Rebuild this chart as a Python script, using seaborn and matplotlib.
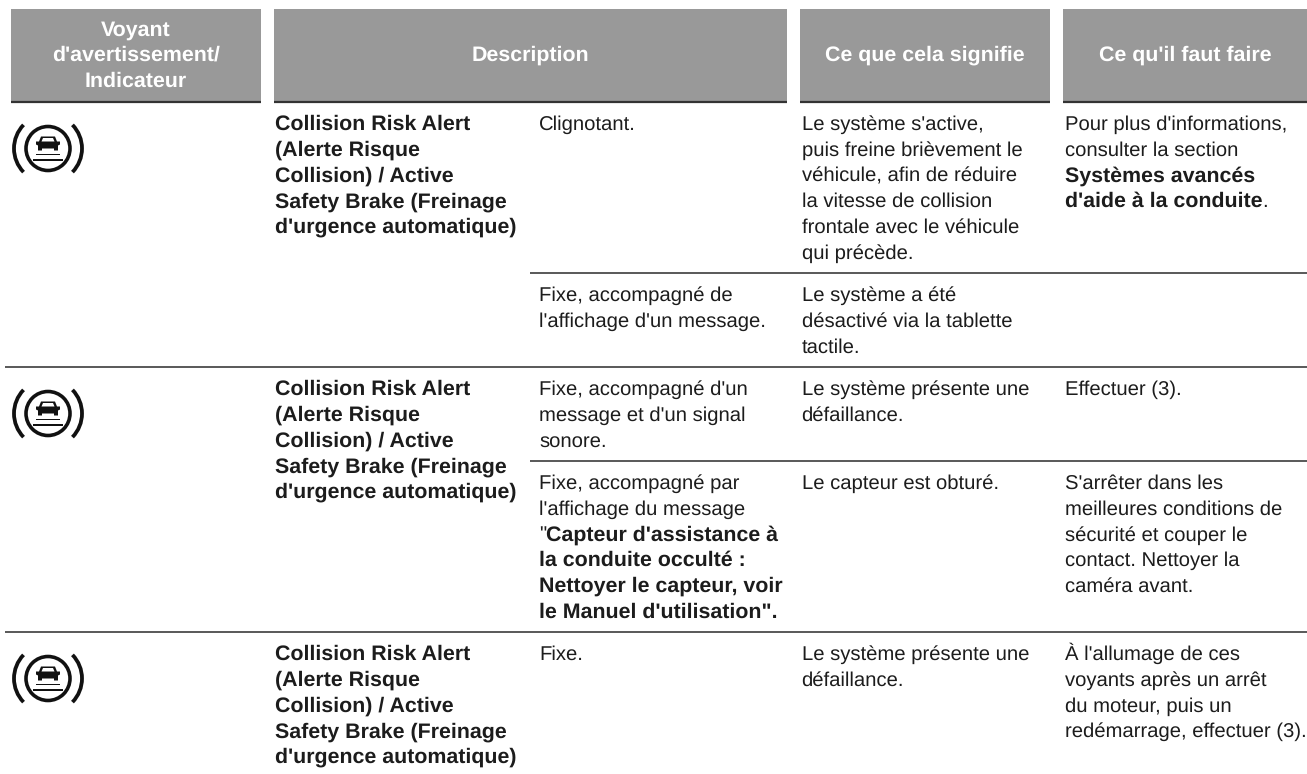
import matplotlib
matplotlib.use("Agg")
import matplotlib.pyplot as plt
from matplotlib.patches import Arc, Circle, Polygon, Rectangle
import pandas as pd
import seaborn as sns

# table content, ** marks bold runs
headers = [["Voyant", "d'avertissement/", "Indicateur"], ["Description"],
           ["Ce que cela signifie"], ["Ce qu'il faut faire"]]
alert_name = ["**Collision Risk Alert**", "**(Alerte Risque**", "**Collision) / Active**",
              "**Safety Brake (Freinage**", "**d'urgence automatique)**"]
states = [["Clignotant."],
          ["Fixe, accompagné de", "l'affichage d'un message."],
          ["Fixe, accompagné d'un", "message et d'un signal", "sonore."],
          ["Fixe, accompagné par", "l'affichage du message", "\"**Capteur d'assistance à**",
           "**la conduite occulté :**", "**Nettoyer le capteur, voir**", "**le Manuel d'utilisation\".**"],
          ["Fixe."]]
meanings = [["Le système s'active,", "puis freine brièvement le", "véhicule, afin de réduire",
             "la vitesse de collision", "frontale avec le véhicule", "qui précède."],
            ["Le système a été", "désactivé via la tablette", "tactile."],
            ["Le système présente une", "défaillance."],
            ["Le capteur est obturé."],
            ["Le système présente une", "défaillance."]]
actions = [["Pour plus d'informations,", "consulter la section", "**Systèmes avancés**",
            "**d'aide à la conduite**."],
           [],
           ["Effectuer (3)."],
           ["S'arrêter dans les", "meilleures conditions de", "sécurité et couper le",
            "contact. Nettoyer la", "caméra avant."],
           ["À l'allumage de ces", "voyants après un arrêt", "du moteur, puis un",
            "redémarrage, effectuer (3)."]]

# layout in pixels
W, H = 1307, 774
header_x = [(11, 261), (274, 787), (800, 1050), (1063, 1307)]
header_top, header_bottom = 9, 102
rows_top = [102, 273, 367, 461, 632]
block_top = [102, 367, 632]
col_x = [275, 539, 801.5, 1065]
line_h = 25.7
body_size = 14.55
bold_size = 15.4
head_size = 15.4
GREY = "#999999"
RULE = "#333333"
INK = "#1c1c1c"

sns.set_theme(style="white")
plt.rcParams["font.family"] = ["Liberation Sans", "DejaVu Sans"]
plt.rcParams["text.hinting"] = "no_hinting"

fig = plt.figure(figsize=(W / 100, H / 100), dpi=100, facecolor="white")
ax = fig.add_axes([0, 0, 1, 1])
ax.set_xlim(0, W)
ax.set_ylim(H, 0)
ax.axis("off")


def put_line(x, y, line):
    # one line of text, switching weight at each ** and chaining the runs
    renderer = fig.canvas.get_renderer()
    for i, run in enumerate(line.split("**")):
        if not run:
            continue
        bold = i % 2 == 1
        t = ax.text(x, y, run, fontsize=bold_size if bold else body_size, color=INK, va="baseline", ha="left",
                    fontweight="bold" if bold else "normal")
        x += t.get_window_extent(renderer).width


def put_block(x, top, lines):
    for k, line in enumerate(lines):
        put_line(x, top + 28 + k * line_h, line)


def draw_icon(cy, cx=48):
    lw = 0.72
    ax.add_patch(Circle((cx, cy), 22, fill=False, ec="#111111", lw=3.6 * lw))
    for centre in (180, 0):
        ax.add_patch(Arc((cx, cy), 68, 68, theta1=centre - 44, theta2=centre + 44,
                         ec="#111111", lw=3.8 * lw))
    body = [(-7, -12), (7, -12), (9, -7), (12, -7), (12, -4), (10, -3), (10, 2), (6, 2), (6, 0),
            (-6, 0), (-6, 2), (-10, 2), (-10, -3), (-12, -4), (-12, -7), (-9, -7)]
    ax.add_patch(Polygon([(cx + a, cy + b) for a, b in body], closed=True, fc="#111111", ec="none"))
    ax.add_patch(Polygon([(cx + a, cy + b) for a, b in [(-5, -10.5), (5, -10.5), (6.5, -7), (-6.5, -7)]],
                         closed=True, fc="white", ec="none"))
    for dy, half in [(6, 12), (11.5, 15)]:
        ax.add_patch(Rectangle((cx - half, cy + dy - 0.9), 2 * half, 1.8, fc="#111111", ec="none"))


# header cells
for (x0, x1), lines in zip(header_x, headers):
    ax.add_patch(Rectangle((x0, header_top), x1 - x0, header_bottom - header_top, fc=GREY, ec="none"))
    for k, line in enumerate(lines):
        y = 61 + (k - (len(lines) - 1) / 2) * line_h
        ax.text((x0 + x1) / 2, y, line, fontsize=head_size, fontweight="bold", color="white",
                ha="center", va="baseline")

# rules
head_rules = pd.DataFrame([(n, x, header_bottom) for n, pair in enumerate(header_x) for x in pair],
                          columns=["rule", "x", "y"])
sns.lineplot(data=head_rules, x="x", y="y", units="rule", estimator=None, sort=False, ax=ax,
             color=RULE, lw=1.6, legend=False, solid_capstyle="butt")
body_rules = pd.DataFrame([(273, 530), (273, W), (367, 5), (367, W), (461, 530), (461, W), (632, 5), (632, W)],
                          columns=["y", "x"])
sns.lineplot(data=body_rules, x="x", y="y", units="y", estimator=None, sort=False, ax=ax,
             color=RULE, lw=1.15, legend=False, solid_capstyle="butt")
ax.set_xlim(0, W)
ax.set_ylim(H, 0)
ax.axis("off")

# body text
for top in block_top:
    draw_icon(top + 46.5)
    put_block(col_x[0], top, alert_name)
for top, state, meaning, action in zip(rows_top, states, meanings, actions):
    put_block(col_x[1], top, state)
    put_block(col_x[2], top, meaning)
    put_block(col_x[3], top, action)

fig.savefig("out.png", dpi=100)
